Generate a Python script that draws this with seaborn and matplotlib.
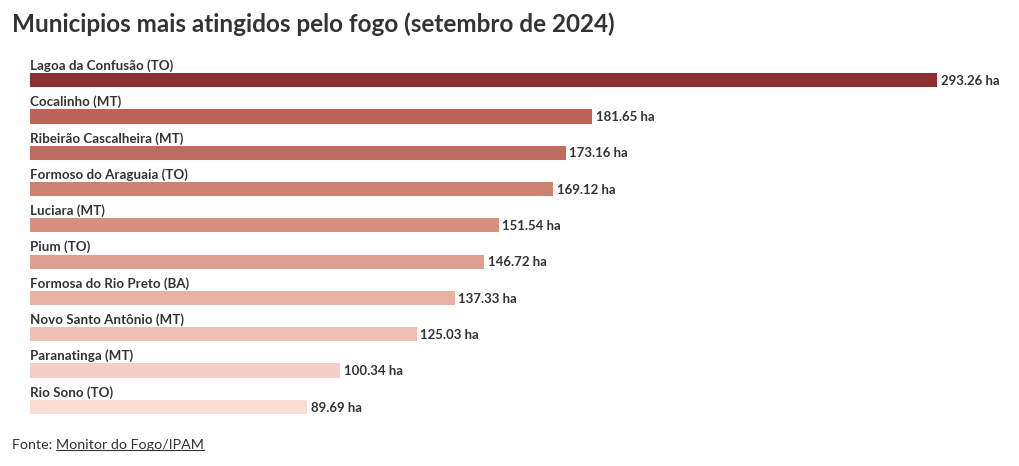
import matplotlib
matplotlib.use("Agg")
import matplotlib.pyplot as plt
import seaborn as sns
import pandas as pd
from matplotlib.lines import Line2D

municipios = [
    "Lagoa da Confusão (TO)", "Cocalinho (MT)", "Ribeirão Cascalheira (MT)",
    "Formoso do Araguaia (TO)", "Luciara (MT)", "Pium (TO)",
    "Formosa do Rio Preto (BA)", "Novo Santo Antônio (MT)",
    "Paranatinga (MT)", "Rio Sono (TO)",
]
area_ha = [293.26, 181.65, 173.16, 169.12, 151.54, 146.72, 137.33, 125.03, 100.34, 89.69]
cores = ["#8b2f2f", "#bb6457", "#c06b5d", "#cd8171", "#d88f7e",
         "#df9f8d", "#e8b1a2", "#eebfb3", "#f5cfc5", "#fadcd5"]

df = pd.DataFrame({"municipio": municipios, "area": area_ha})

sns.set_style("white")
plt.rcParams["font.family"] = ["Lato", "DejaVu Sans"]

W, H = 1020, 466
fig = plt.figure(figsize=(W / 100, H / 100), dpi=100)
ax = fig.add_axes([30 / W, (H - 425) / H, 990 / W, 363 / H])

sns.barplot(data=df, x="area", y="municipio", hue="municipio", palette=cores,
            width=0.39, legend=False, ax=ax, saturation=1, linewidth=0)

ax.set_xlim(0, 990 / 3.093)
ax.set_ylim(9.5, -0.5)
ax.axis("off")

for i, (nome, v) in enumerate(zip(municipios, area_ha)):
    ax.text(0, i - 0.4, nome, ha="left", va="center", fontsize=9.6,
            fontweight="bold", color="#333333")
    ax.text(v + 1.2, i + 0.02, f"{v:.2f} ha", ha="left", va="center",
            fontsize=9.5, fontweight="bold", color="#333333")

fig.text(12 / W, 1 - 24 / H, "Municipios mais atingidos pelo fogo (setembro de 2024)",
         ha="left", va="center", fontsize=17.5, fontweight="bold", color="#333333")

fonte = fig.text(12 / W, 1 - 445 / H, "Fonte: ", ha="left", va="center",
                 fontsize=10.3, color="#333333")
fig.canvas.draw()
r = fig.canvas.get_renderer()
bb = fonte.get_window_extent(r)
link = fig.text(bb.x1 / W, 1 - 445 / H, "Monitor do Fogo/IPAM", ha="left",
                va="center", fontsize=10.3, color="#333333")
bb2 = link.get_window_extent(r)
uy = (bb2.y0 + 1.5) / H
fig.add_artist(Line2D([bb2.x0 / W, bb2.x1 / W], [uy, uy], color="#333333",
                      lw=0.8, transform=fig.transFigure))

fig.savefig("out.png", dpi=100, facecolor="white")
